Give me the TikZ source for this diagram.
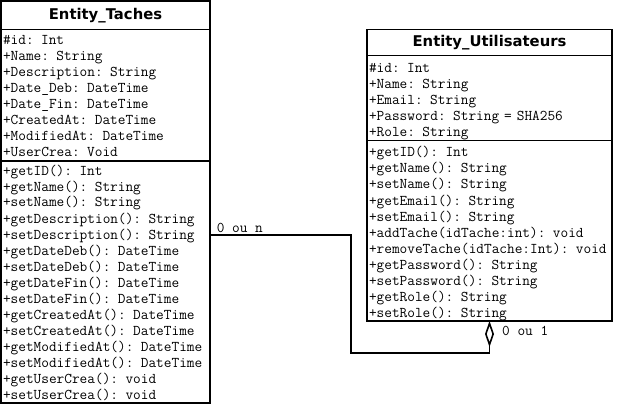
\documentclass[tikz,border=0pt]{standalone}
\usepackage{fontspec}
\usetikzlibrary{positioning,arrows.meta}
\newfontfamily\titrefam{DejaVu Sans}
\begin{document}
\begin{tikzpicture}[x=1pt,y=-1pt,
    boite/.style={draw,line width=1.6pt,inner xsep=2pt,inner ysep=0pt,outer sep=0pt,fill=white},
    titre/.style={boite,font=\titrefam\bfseries\fontsize{14.8}{16}\selectfont,align=center},
    champs/.style={boite,align=left,font=\ttfamily\fontsize{14.9}{16}\selectfont},
    etiquette/.style={font=\ttfamily\fontsize{14.9}{16}\selectfont,inner sep=2pt},
    lien/.style={line width=1.6pt,line join=miter}]
    \useasboundingbox[fill=white] (0,0) rectangle (617,406);
    % classe des taches
    \node[titre,minimum width=209pt,minimum height=28.5pt,anchor=north west] (tachesT) at (1,1) {Entity\_Taches};
    \node[champs,text width=205pt,text height=15.5pt,text depth=116pt,below=0pt of tachesT] (tachesA) {\#id: Int\\+Name: String\\+Description: String\\+Date\_Deb: DateTime\\+Date\_Fin: DateTime\\+CreatedAt: DateTime\\+ModifiedAt: DateTime\\+UserCrea: Void};
    \node[champs,text width=205pt,text height=14pt,text depth=228pt,below=0pt of tachesA] (tachesM) {+getID(): Int\\+getName(): String\\+setName(): String\\+getDescription(): String\\+setDescription(): String\\+getDateDeb(): DateTime\\+setDateDeb(): DateTime\\+getDateFin(): DateTime\\+setDateFin(): DateTime\\+getCreatedAt(): DateTime\\+setCreatedAt(): DateTime\\+getModifiedAt(): DateTime\\+setModifiedAt(): DateTime\\+getUserCrea(): void\\+setUserCrea(): void};
    % classe des utilisateurs
    \node[titre,minimum width=245pt,minimum height=26pt,anchor=north west] (utilT) at (367,29.5) {Entity\_Utilisateurs};
    \node[champs,text width=241pt,text height=17pt,text depth=68pt,below=0pt of utilT] (utilA) {\#id: Int\\+Name: String\\+Email: String\\+Password: String = SHA256\\+Role: String};
    \node[champs,text width=241pt,text height=16.5pt,text depth=164pt,below=0pt of utilA] (utilM) {+getID(): Int\\+getName(): String\\+setName(): String\\+getEmail(): String\\+setEmail(): String\\+addTache(idTache:int): void\\+removeTache(idTache:Int): void\\+getPassword(): String\\+setPassword(): String\\+getRole(): String\\+setRole(): String};
    % association
    \coordinate (coude) at (351,353);
    \draw[lien,-{Diamond[open,length=26pt,width=9pt,line width=1.6pt]}] ([yshift=47pt]tachesM.east) node[etiquette,anchor=south west,xshift=4pt] (cardN) {0 ou n} -| (coude) -| (utilM.south);
    \node[etiquette,anchor=west] (card1) at ([xshift=10.5pt,yshift=-10pt]utilM.south) {0 ou 1};
\end{tikzpicture}
\end{document}
